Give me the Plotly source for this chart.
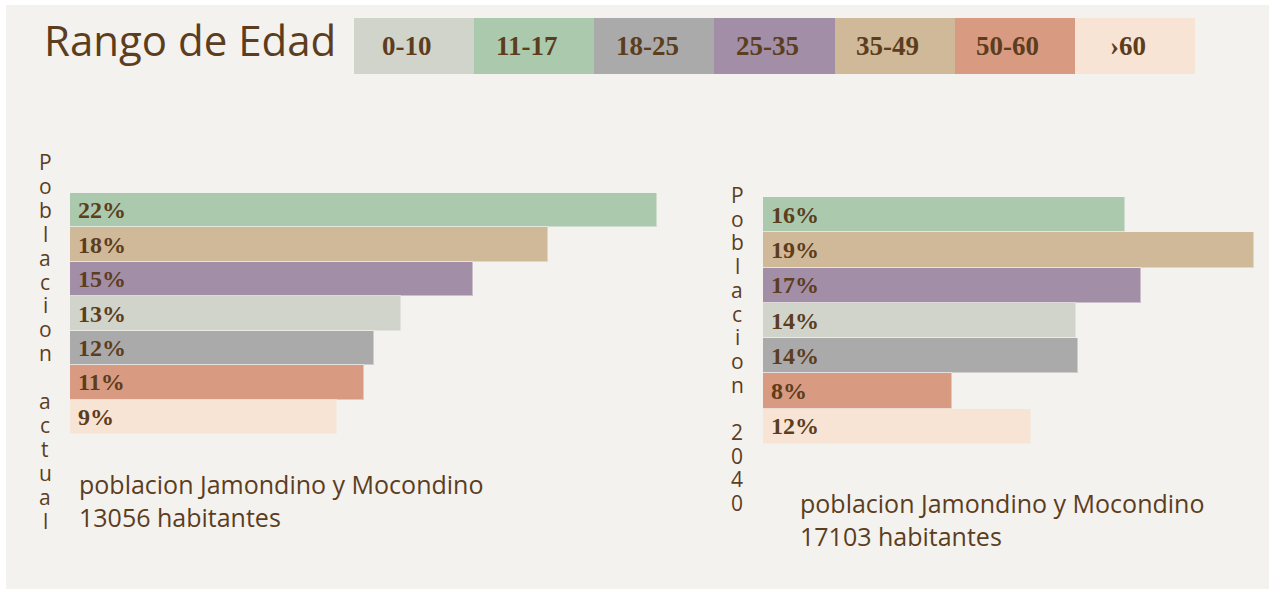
import plotly.graph_objects as go

W, H = 1275, 589

# ---- data ----
legend_labels = ["0-10", "11-17", "18-25", "25-35", "35-49", "50-60", "›60"]
legend_colors = ["#D1D4CA", "#AAC9AD", "#AAAAAA", "#A28EA6", "#D0B998", "#D89B82", "#F7E4D4"]

order_groups = ["11-17", "35-49", "25-35", "0-10", "18-25", "50-60", "›60"]
actual_len = [22.0, 17.9, 15.1, 12.4, 11.4, 11.0, 10.0]
actual_pct = ["22%", "18%", "15%", "13%", "12%", "11%", "9%"]
future_len = [16.1, 21.8, 16.8, 13.9, 14.0, 8.4, 11.9]
future_pct = ["16%", "19%", "17%", "14%", "14%", "8%", "12%"]

title_text = "Rango de Edad"
left_vertical = "Poblacion actual"
right_vertical = "Poblacion 2040"
left_caption = "poblacion Jamondino y Mocondino<br>13056 habitantes"
right_caption = "poblacion Jamondino y Mocondino<br>17103 habitantes"

BROWN = "#5C3D1E"
BG = "#F3F2EE"
SANS = "'Open Sans', Lato, sans-serif"
SERIF = "'Liberation Serif', 'DejaVu Serif', serif"

color_of = dict(zip(legend_labels, legend_colors))


def px(x):
    return x / W


def py(y):
    return 1 - y / H


fig = go.Figure()

ycats = [str(i) for i in range(len(order_groups))]
sep = dict(color="rgba(243,242,238,0.5)", width=1)

fig.add_trace(go.Bar(
    x=actual_len, y=ycats, orientation="h",
    marker=dict(color=[color_of[g] for g in order_groups], line=sep),
    xaxis="x", yaxis="y", hoverinfo="skip",
))
fig.add_trace(go.Bar(
    x=future_len, y=ycats, orientation="h",
    marker=dict(color=[color_of[g] for g in order_groups], line=sep),
    xaxis="x2", yaxis="y2", hoverinfo="skip",
))

axis_common = dict(showgrid=False, zeroline=False, showticklabels=False,
                   showline=False, ticks="", fixedrange=True)

# legend boxes as a stacked bar on its own axis
for lab, col in zip(legend_labels, legend_colors):
    fig.add_trace(go.Bar(
        x=[1], y=["k"], orientation="h", marker=dict(color=col, line=dict(width=0)),
        xaxis="x3", yaxis="y3", hoverinfo="skip",
    ))

fig.update_layout(
    width=W, height=H,
    margin=dict(l=0, r=0, t=0, b=0),
    paper_bgcolor="white", plot_bgcolor="rgba(0,0,0,0)",
    showlegend=False, barmode="stack", bargap=0,
    xaxis=dict(domain=[px(70), px(700)], range=[0, 630 / 26.7], anchor="y", **axis_common),
    yaxis=dict(domain=[py(434), py(193)], range=[6.5, -0.5], anchor="x", **axis_common),
    xaxis2=dict(domain=[px(763), px(1262)], range=[0, 499 / 22.5], anchor="y2", **axis_common),
    yaxis2=dict(domain=[py(444), py(197)], range=[6.5, -0.5], anchor="x2", **axis_common),
    xaxis3=dict(domain=[px(354), px(1195)], range=[0, 7], anchor="y3", **axis_common),
    yaxis3=dict(domain=[py(74), py(18)], range=[-0.5, 0.5], anchor="x3", **axis_common),
)

# beige panel
fig.add_shape(type="rect", xref="paper", yref="paper",
              x0=px(6), x1=px(1269), y0=0, y1=py(5),
              fillcolor=BG, line=dict(width=0), layer="below")

ann = []
pct_font = dict(family=SERIF, size=24, color=BROWN, weight="bold")
for i, t in enumerate(actual_pct):
    ann.append(dict(text=t, xref="x", yref="y", x=0, y=ycats[i], xshift=6,
                    xanchor="left", yanchor="middle", showarrow=False, font=pct_font))
for i, t in enumerate(future_pct):
    ann.append(dict(text=t, xref="x2", yref="y2", x=0, y=ycats[i], xshift=6,
                    xanchor="left", yanchor="middle", showarrow=False, font=pct_font))
for i, lab in enumerate(legend_labels):
    ann.append(dict(text=lab, xref="x3", yref="y3", x=i + 0.5, y="k", xshift=-7,
                    xanchor="center", yanchor="middle", showarrow=False,
                    font=dict(family=SERIF, size=27, color=BROWN, weight="bold")))

ann.append(dict(text=title_text, xref="paper", yref="paper", x=px(42), y=py(40),
                xanchor="left", yanchor="middle", showarrow=False,
                font=dict(family=SANS, size=42, color=BROWN)))

for i, ch in enumerate(left_vertical):
    if ch == " ":
        continue
    ann.append(dict(text=ch, xref="paper", yref="paper", x=px(45), y=py(162 + i * 23.9),
                    xanchor="center", yanchor="middle", showarrow=False,
                    font=dict(family=SANS, size=21, color=BROWN)))
for i, ch in enumerate(right_vertical):
    if ch == " ":
        continue
    ann.append(dict(text=ch, xref="paper", yref="paper", x=px(737), y=py(195 + i * 23.7),
                    xanchor="center", yanchor="middle", showarrow=False,
                    font=dict(family=SANS, size=21, color=BROWN)))

ann.append(dict(text=left_caption, xref="paper", yref="paper", x=px(77), y=py(500),
                xanchor="left", yanchor="middle", align="left", showarrow=False,
                font=dict(family=SANS, size=25, color=BROWN)))
ann.append(dict(text=right_caption, xref="paper", yref="paper", x=px(798), y=py(519),
                xanchor="left", yanchor="middle", align="left", showarrow=False,
                font=dict(family=SANS, size=25, color=BROWN)))

fig.update_layout(annotations=ann)

fig.write_html("out.html", config={"displayModeBar": False},
               post_script="document.body.style.margin='0px';")
